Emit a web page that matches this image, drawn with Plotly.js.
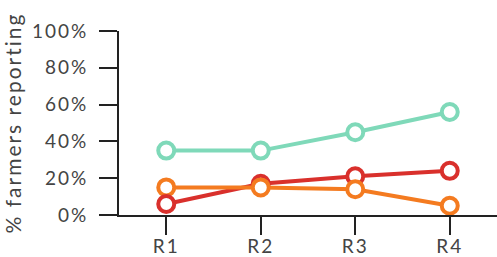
<!DOCTYPE html>
<html><head><meta charset="utf-8">
<script src="https://cdn.plot.ly/plotly-3.0.1.min.js"></script>
<style>
html,body{margin:0;padding:0;background:#fff}
#chart text{letter-spacing:2px}
</style>
</head><body><div id="chart" style="width:497px;height:257px"></div>
<script>
const categories = ["R1", "R2", "R3", "R4"];
const tealValues = [35, 35, 45, 56];
const redValues = [6, 17, 21, 24];
const orangeValues = [15, 15, 14, 5];
const yTickVals = [0, 20, 40, 60, 80, 100];
const yTickText = ["0%", "20%", "40%", "60%", "80%", "100%"];

const seriesList = [
  {y: tealValues, color: "#7fd9b9"},
  {y: redValues, color: "#d9302c"},
  {y: orangeValues, color: "#f47b20"}
];

const data = [];
seriesList.forEach(s => data.push({
  x: categories, y: s.y, type: "scatter", mode: "lines",
  line: {color: s.color, width: 4}, hoverinfo: "skip", cliponaxis: false
}));
// markers: at each category, higher values drawn first, lower on top
categories.forEach((c, i) => {
  const pts = seriesList.map(s => ({v: s.y[i], color: s.color}))
    .sort((a, b) => b.v - a.v);
  pts.forEach(p => data.push({
    x: [c], y: [p.v], type: "scatter", mode: "markers",
    marker: {symbol: "circle", size: 16, color: "#fff", line: {color: p.color, width: 4}},
    hoverinfo: "skip", cliponaxis: false
  }));
});

const tickFont = {family: "Lato, sans-serif", size: 19, color: "#444"};
const titleFont = {family: "Lato, sans-serif", size: 21, color: "#444"};
const layout = {
  width: 497, height: 257, showlegend: false,
  margin: {l: 119, r: 0, t: 31, b: 42},
  paper_bgcolor: "#fff", plot_bgcolor: "#fff",
  font: tickFont,
  xaxis: {
    type: "category", range: [-0.5, 3.5], showgrid: false, zeroline: false,
    showline: true, linecolor: "#222", linewidth: 2,
    ticks: "outside", ticklen: 18, tickwidth: 2, tickcolor: "#222",
    tickfont: tickFont, ticklabelstandoff: -5, fixedrange: true
  },
  yaxis: {
    range: [0, 100], showgrid: false, zeroline: false,
    showline: true, linecolor: "#222", linewidth: 2,
    ticks: "outside", ticklen: 18, tickwidth: 2, tickcolor: "#222",
    tickvals: yTickVals, ticktext: yTickText, tickfont: tickFont,
    ticklabelstandoff: 7,
    title: {text: "% farmers reporting", font: titleFont, standoff: 16},
    fixedrange: true
  }
};
Plotly.newPlot("chart", data, layout, {staticPlot: true, displayModeBar: false});
</script></body></html>
